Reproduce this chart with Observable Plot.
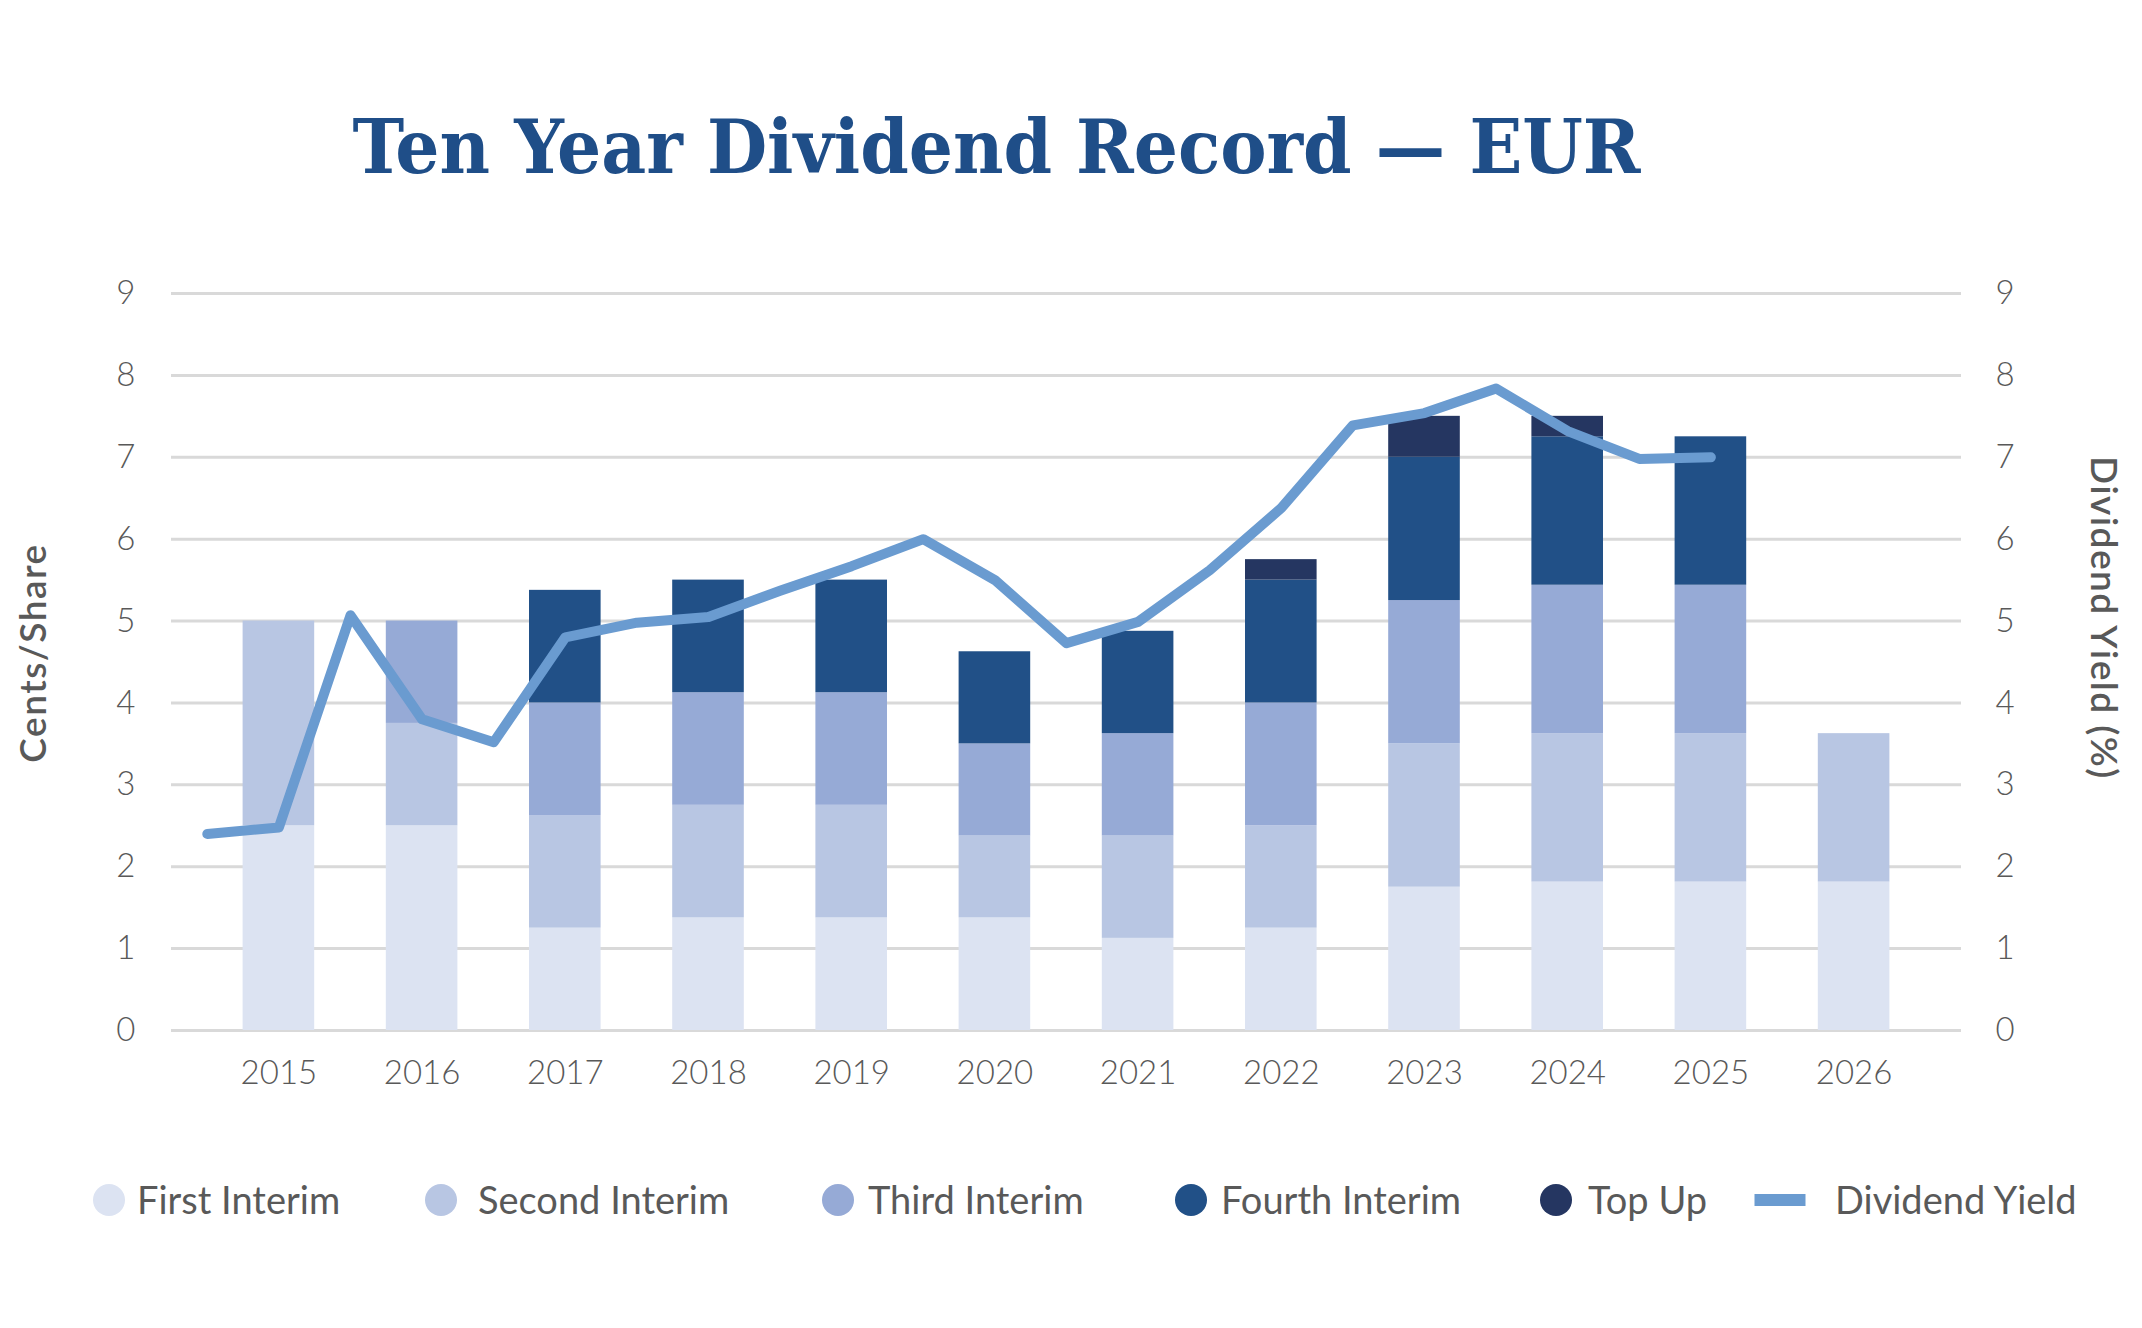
<!DOCTYPE html>
<html><head><meta charset="utf-8">
<script src="https://cdn.jsdelivr.net/npm/d3@7"></script>
<script src="https://cdn.jsdelivr.net/npm/@observablehq/plot@0.6"></script>
<style>
body{margin:0;background:#fff;}
#page{position:relative;width:2142px;height:1328px;overflow:hidden;font-family:Lato, sans-serif;color:#595959;}
#title{position:absolute;left:0;top:110px;font-family:"DejaVu Serif Condensed","DejaVu Serif",serif;font-stretch:condensed;font-weight:bold;font-size:74px;line-height:1;color:#1f4e88;white-space:nowrap;display:inline-block;}
#chart{position:absolute;left:0;top:240px;}
#legend{position:absolute;left:0;top:1120px;width:2142px;height:160px;}
.sw{position:absolute;top:80px;transform:translate(-50%,-50%);}
.lt{position:absolute;top:80px;transform:translateY(-50%);font-size:38px;line-height:1.2;white-space:nowrap;color:#595959;}
</style></head>
<body><div id="page">
<div id="title"></div>
<div id="chart"></div>
<div id="legend"></div>
</div>
<script>
const titleText = "Ten Year Dividend Record — EUR";
const years = [2015, 2016, 2017, 2018, 2019, 2020, 2021, 2022, 2023, 2024, 2025, 2026];
const seriesNames = ["First Interim", "Second Interim", "Third Interim", "Fourth Interim", "Top Up"];
const seriesColors = ["#dce3f2", "#b8c6e3", "#96aad6", "#215087", "#253661"];
const firstInterim  = [2.5, 2.5, 1.25, 1.375, 1.375, 1.375, 1.125, 1.25, 1.75, 1.8125, 1.8125, 1.8125];
const secondInterim = [2.5, 1.25, 1.375, 1.375, 1.375, 1.0, 1.25, 1.25, 1.75, 1.8125, 1.8125, 1.8125];
const thirdInterim  = [0, 1.25, 1.375, 1.375, 1.375, 1.125, 1.25, 1.5, 1.75, 1.8125, 1.8125, 0];
const fourthInterim = [0, 0, 1.375, 1.375, 1.375, 1.125, 1.25, 1.5, 1.75, 1.8125, 1.8125, 0];
const topUp         = [0, 0, 0, 0, 0, 0, 0, 0.25, 0.5, 0.25, 0, 0];
const yieldName = "Dividend Yield";
const yieldColor = "#6a9bd0";
const yieldPeriods = [2014.5, 2015, 2015.5, 2016, 2016.5, 2017, 2017.5, 2018, 2018.5, 2019, 2019.5, 2020, 2020.5, 2021, 2021.5, 2022, 2022.5, 2023, 2023.5, 2024, 2024.5, 2025];
const yieldValues  = [2.40, 2.48, 5.07, 3.80, 3.52, 4.80, 4.98, 5.05, 5.37, 5.67, 6.0, 5.5, 4.73, 4.99, 5.62, 6.38, 7.39, 7.54, 7.84, 7.32, 6.98, 7.0];
const yTicks = [0, 1, 2, 3, 4, 5, 6, 7, 8, 9];
const leftTitle = "Cents/Share";
const rightTitle = "Dividend Yield (%)";

// title, fitted to the reference width around its centre
const titleEl = document.getElementById("title");
titleEl.textContent = titleText;
const tw = titleEl.getBoundingClientRect().width;
titleEl.style.left = (997 - tw / 2) + "px";
titleEl.style.transform = "scaleX(" + (1288 / tw) + ")";
titleEl.style.transformOrigin = "50% 50%";

const seriesValues = [firstInterim, secondInterim, thirdInterim, fourthInterim, topUp];
const rows = [];
seriesNames.forEach((s, i) => years.forEach((yr, j) => {
  const v = seriesValues[i][j];
  if (v > 0) rows.push({year: yr, series: s, value: v});
}));
const yieldData = yieldPeriods.map((p, i) => ({period: p, value: yieldValues[i]}));
const xDomain = d3.range(2014.5, 2026.75, 0.5);

const chart = Plot.plot({
  width: 2142, height: 880,
  marginTop: 53, marginBottom: 90, marginLeft: 171, marginRight: 181,
  style: {fontFamily: "Lato", color: "#595959", background: "transparent", fontWeight: 300},
  x: {type: "band", domain: xDomain, padding: 0, round: false},
  y: {domain: [0, 9]},
  color: {domain: seriesNames, range: seriesColors},
  marks: [
    Plot.ruleY(yTicks, {stroke: "#d9d9d9", strokeWidth: 3}),
    Plot.barY(rows, {x: "year", y: "value", fill: "series", order: seriesNames}),
    Plot.line(yieldData, {x: "period", y: "value", stroke: yieldColor, strokeWidth: 10, strokeLinecap: "round", strokeLinejoin: "round"}),
    Plot.axisX({ticks: years, tickFormat: d => String(d), tickSize: 0, tickPadding: 30, fontSize: 33, label: null}),
    Plot.axisY({anchor: "left", ticks: yTicks, tickSize: 0, tickPadding: 36, fontSize: 33, label: null}),
    Plot.axisY({anchor: "right", ticks: yTicks, tickSize: 0, tickPadding: 34, fontSize: 33, label: null}),
    Plot.text([leftTitle], {text: d => d, frameAnchor: "left", textAnchor: "middle", lineAnchor: "middle", rotate: -90, dx: -137, dy: -9, fontSize: 37, fontWeight: 600, fill: "#595959", style: "letter-spacing:1.5px"}),
    Plot.text([rightTitle], {text: d => d, frameAnchor: "right", textAnchor: "middle", lineAnchor: "middle", rotate: 90, dx: 141, dy: -44, fontSize: 37, fontWeight: 600, fill: "#595959"})
  ]
});
chart.querySelectorAll("text").forEach(t => {
  if (t.textContent === leftTitle || t.textContent === rightTitle) t.style.letterSpacing = "1.5px";
});
document.getElementById("chart").appendChild(chart);

// legend
const legend = document.getElementById("legend");
const swatchX = [109, 441, 838, 1191, 1556];
const textX = [137, 478, 868, 1221, 1588];
seriesNames.forEach((s, i) => {
  const c = document.createElement("div");
  c.className = "sw";
  c.style.left = swatchX[i] + "px";
  c.style.width = "32px"; c.style.height = "32px"; c.style.borderRadius = "50%";
  c.style.background = seriesColors[i];
  legend.appendChild(c);
  const t = document.createElement("div");
  t.className = "lt"; t.style.left = textX[i] + "px"; t.textContent = s;
  legend.appendChild(t);
});
const ln = document.createElement("div");
ln.className = "sw"; ln.style.left = "1780px"; ln.style.width = "51px"; ln.style.height = "12px";
ln.style.background = yieldColor;
legend.appendChild(ln);
const lt = document.createElement("div");
lt.className = "lt"; lt.style.left = "1835px"; lt.textContent = yieldName;
legend.appendChild(lt);
</script>
</body></html>
